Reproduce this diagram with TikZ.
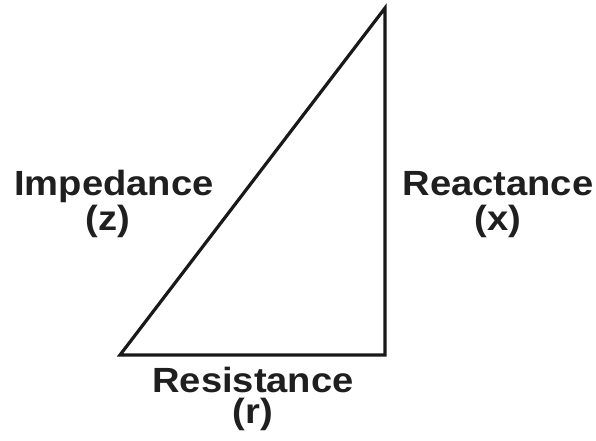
\documentclass[tikz,border=0pt]{standalone}
\usepackage{fontspec}
\setmainfont{Liberation Sans}
\newcommand{\wide}[1]{\scalebox{1.09}[1]{#1}}
\begin{document}
\begin{tikzpicture}[x=1pt,y=-1pt,
  lbl/.style={font=\fontsize{35}{40}\selectfont\bfseries, anchor=base, inner sep=0pt, text=black!88}]
\useasboundingbox (0,0) rectangle (596,440);
\coordinate (A) at (120,355);
\coordinate (B) at (385,355);
\coordinate (C) at (385,8);
\draw[line width=3.2pt, line join=miter, black!90] (A) -- (B) -- (C) -- cycle;
\node[lbl] (imp) at (114,195) {\wide{Impedance}};
\node[lbl] (z) at (108,230) {\wide{(z)}};
\node[lbl] (rea) at (498,195) {\wide{Reactance}};
\node[lbl] (x) at (498,230) {\wide{(x)}};
\node[lbl] (res) at (253,392) {\wide{Resistance}};
\node[lbl] (r) at (253,423) {\wide{(r)}};
\end{tikzpicture}
\end{document}
